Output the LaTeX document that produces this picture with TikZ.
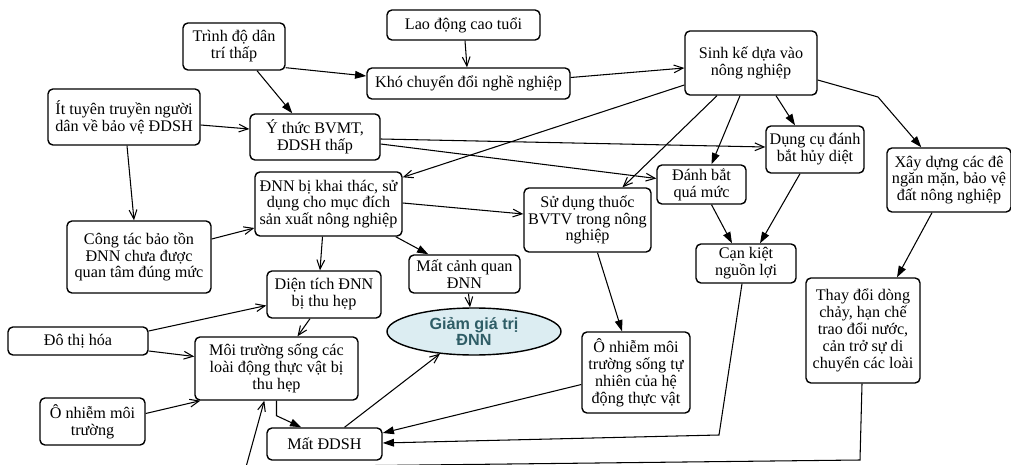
\documentclass[tikz,border=0pt]{standalone}
\usepackage{fontspec}
\setmainfont{Liberation Serif}
\setsansfont{Liberation Sans}
\newfontfamily\boxfont{Liberation Serif}
\newfontfamily\ovalfont{Liberation Sans}
\usetikzlibrary{arrows.meta,calc,shapes.geometric}
\definecolor{dnnteal}{HTML}{2F5D66}
\definecolor{dnnfill}{HTML}{DCEDF2}

\tikzset{
  box/.style={draw, rounded corners=3.5pt, line width=1pt, fill=white, align=center,
    inner sep=1pt, font=\boxfont\fontsize{11.5}{12}\selectfont},
  wh/.style 2 args={minimum width=#1*0.025cm, minimum height=#2*0.025cm},
  oarr/.style={line width=0.75pt, -{Straight Barb[length=6.5pt,width=5.5pt]}},
  farr/.style={line width=0.75pt, -{Triangle[length=8pt,width=5.5pt]}},
}

\begin{document}
\begin{tikzpicture}[x=0.025cm,y=-0.025cm]
\useasboundingbox (0,0) rectangle (1011,465);
\clip (0,0) rectangle (1011,465);

% causes, top row
\node[box, wh={102}{47}] (trinhdo) at (234,46.5) {Trình độ dân\\trí thấp};
\node[box, wh={153}{30}] (laodong) at (463.5,25) {Lao động cao tuổi};
\node[box, wh={203}{31}] (khochuyen) at (468.5,83.5) {Khó chuyển đổi nghề nghiệp};
\node[box, wh={132}{64}] (sinhke) at (751,63) {Sinh kế dựa vào\\nông nghiệp};
\node[box, wh={152}{56}] (ittuyen) at (124,117) {Ít tuyên truyền người\\dân về bảo vệ ĐDSH};
\node[box, wh={130}{46}] (ythuc) at (315,137) {Ý thức BVMT,\\ĐDSH thấp};
\node[box, wh={98}{47}] (dungcu) at (815,149.5) {Dụng cụ đánh\\bắt hủy diệt};
\node[box, wh={89}{39}] (danhbat) at (701.5,184.5) {Đánh bắt\\quá mức};
\node[box, wh={124}{64}] (xaydung) at (949,180) {Xây dựng các đê\\ngăn mặn, bảo vệ\\đất nông nghiệp};

% middle row
\node[box, wh={147}{64}] (khaithac) at (328.5,204) {ĐNN bị khai thác, sử\\dụng cho mục đích\\sản xuất nông nghiệp};
\node[box, wh={127}{64}] (bvtv) at (587.5,220) {Sử dụng thuốc\\BVTV trong nông\\nghiệp};
\node[box, wh={144}{72}] (baoton) at (139,257) {Công tác bảo tồn\\ĐNN chưa được\\quan tâm đúng mức};
\node[box, wh={114}{47}] (dientich) at (324,294.5) {Diện tích ĐNN\\bị thu hẹp};
\node[box, wh={111}{38}] (canhquan) at (464.5,274) {Mất cảnh quan\\ĐNN};
\node[box, wh={100}{39}] (cankiet) at (746,263.5) {Cạn kiệt\\nguồn lợi};
\node[ellipse, draw, fill=dnnfill, line width=1pt, wh={174}{47}, inner sep=0pt, align=center,
  text=dnnteal, font=\ovalfont\bfseries\fontsize{11.5}{12}\selectfont] (giam) at (474,331.5) {Giảm giá trị\\ĐNN};

% bottom row
\node[box, wh={140}{28}] (dothi) at (78,341) {Đô thị hóa};
\node[box, wh={163}{63}] (moitruong) at (276.5,368.5) {Môi trường sống các\\loài động thực vật bị\\thu hẹp};
\node[box, wh={108}{81}] (onhiemtn) at (636,372.5) {Ô nhiễm môi\\trường sống tự\\nhiên của hệ\\động thực vật};
\node[box, wh={114}{105}] (thaydoi) at (863,330.5) {Thay đổi dòng\\chảy, hạn chế\\trao đổi nước,\\cản trở sự di\\chuyển các loài};
\node[box, wh={105}{47}] (onhiemmt) at (92.5,421.5) {Ô nhiễm môi\\trường};
\node[box, wh={115}{32}] (matddsh) at (324.5,444) {Mất ĐDSH};

% bends of the long connectors
\coordinate (bendxd) at (878,97);
\coordinate (bendck) at (719,435);
\coordinate (bendtd) at (860,460);
\coordinate (bendbot) at (246,467);

% connectors
\draw[farr] ($(trinhdo.south east)+(0,-3)$) -- ($(khochuyen.west)+(0,-7.5)$);
\draw[farr] ($(trinhdo.south)+(23,0)$) -- ($(ythuc.north west)+(43,0)$);
\draw[oarr] ($(laodong.south)+(1.5,0)$) -- ($(khochuyen.north)+(-1.5,0)$);
\draw[oarr] ($(khochuyen.east)+(0,-6)$) -- ($(sinhke.west)+(0,5)$);
\draw[oarr] ($(ittuyen.east)+(0,8)$) -- ($(ythuc.west)+(0,-8)$);
\draw[oarr] ($(ittuyen.south)+(3,0)$) -- ($(baoton.north)+(-5,0)$);
\draw[oarr] ($(baoton.east)+(0,-18)$) -- ($(khaithac.west)+(0,24)$);
\draw[oarr] ($(sinhke.west)+(0,22)$) -- ($(khaithac.north east)+(0,6)$);
\draw[oarr] ($(ythuc.east)+(0,2)$) -- ($(dungcu.west)+(0,-2.5)$);
\draw[oarr] ($(ythuc.east)+(0,7)$) -- ($(danhbat.west)+(0,-6)$);
\draw[oarr] ($(sinhke.south)+(-34,0)$) -- ($(bvtv.north)+(35,0)$);
\draw[farr] ($(sinhke.south)+(-11,0)$) -- ($(danhbat.north)+(10,0)$);
\draw[farr] ($(sinhke.south)+(25,0)$) -- ($(dungcu.north)+(-20,0)$);
\draw[farr] ($(sinhke.east)+(0,17)$) -- (bendxd) -- ($(xaydung.north west)+(35,0)$);
\draw[oarr] ($(khaithac.east)+(0,-1)$) -- ($(bvtv.west)+(0,-6)$);
\draw[farr] ($(khaithac.south east)+(-7,0)$) -- ($(canhquan.north west)+(20,0)$);
\draw[oarr] ($(khaithac.south)+(-6,0)$) -- ($(dientich.north)+(-4,0)$);
\draw[farr] ($(danhbat.south)+(10,0)$) -- ($(cankiet.north)+(-14,0)$);
\draw[farr] ($(dungcu.south)+(-15,0)$) -- ($(cankiet.north)+(14,0)$);
\draw[farr] ($(xaydung.south)+(-17,0)$) -- ($(thaydoi.north)+(34,0)$);
\draw[farr] ($(bvtv.south)+(10,0)$) -- ($(onhiemtn.north)+(-14,0)$);
\draw[oarr] ($(canhquan.south)+(4,0)$) -- ($(giam.north)+(-4,0)$);
\draw[oarr] ($(dothi.east)+(0,-10)$) -- ($(dientich.west)+(0,11)$);
\draw[oarr] ($(dothi.east)+(0,10)$) -- ($(moitruong.west)+(0,-12)$);
\draw[oarr] ($(dientich.south)+(-14,0)$) -- ($(moitruong.north)+(21,0)$);
\draw[oarr] ($(onhiemmt.east)+(0,-8)$) -- ($(moitruong.south west)+(6,0)$);
\draw[farr] (moitruong.south) -- ++(0,15) -- ($(matddsh.north west)+(35,0)$);
\draw[oarr] ($(matddsh.north)+(20,0)$) -- ($(giam.south)+(-34,-2)$);
\draw[farr] ($(onhiemtn.west)+(0,12)$) -- ($(matddsh.east)+(0,-11)$);
\draw[farr] ($(cankiet.south)+(-4,0)$) -- (bendck) -- ($(matddsh.east)+(0,-1)$);
\draw[oarr] ($(thaydoi.south)+(-1,0)$) -- (bendtd) -- (bendbot) -- ($(moitruong.south west)+(70,0)$);
\end{tikzpicture}
\end{document}
